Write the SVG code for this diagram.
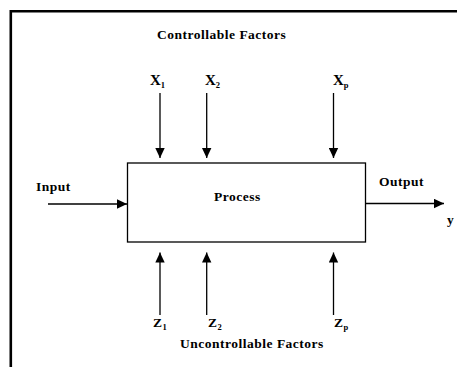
<svg xmlns="http://www.w3.org/2000/svg" width="457" height="367" viewBox="0 0 457 367">
<style>
.t{font-family:"Liberation Serif","Times New Roman",serif;font-weight:bold;font-size:13.5px;letter-spacing:0.5px;fill:#000}
.x{font-size:15px;letter-spacing:0}
.s{font-size:8.5px;letter-spacing:0}
.ln{stroke:#000;stroke-width:1.3;fill:none}
</style>
<defs>
<marker id="ah" markerUnits="userSpaceOnUse" markerWidth="11" markerHeight="10" refX="10" refY="5" orient="auto">
<path d="M0,0.3 L10,5 L0,9.7 Z" fill="#000"/>
</marker>
</defs>
<rect width="457" height="367" fill="#fff"/>
<g id="frame">
<path d="M10.8,367 V11.3 H457" fill="none" stroke="#000" stroke-width="2.6"/>
</g>
<g id="process">
<rect x="127.5" y="163" width="238" height="79" fill="#fff" stroke="#000" stroke-width="1.3"/>
<text class="t" x="214" y="201">Process</text>
</g>
<g id="controllable">
<text class="t" x="157" y="39">Controllable Factors</text>
<text class="t x" x="150" y="85">X<tspan class="s" dy="2.5">1</tspan></text>
<text class="t x" x="205" y="85">X<tspan class="s" dy="2.5">2</tspan></text>
<text class="t x" x="333" y="85">X<tspan class="s" dy="2.5">p</tspan></text>
</g>
<g id="uncontrollable">
<text class="t" x="153" y="327">Z<tspan class="s" dy="3">1</tspan></text>
<text class="t" x="208" y="327">Z<tspan class="s" dy="3">2</tspan></text>
<text class="t" x="334" y="327">Z<tspan class="s" dy="3">p</tspan></text>
<text class="t" x="180" y="348">Uncontrollable Factors</text>
</g>
<g id="input">
<text class="t" x="36" y="191">Input</text>
</g>
<g id="output">
<text class="t" x="379" y="186">Output</text>
<text class="t" x="447" y="224">y</text>
</g>
<g id="connectors">
<line class="ln" x1="160" y1="93" x2="160" y2="158" marker-end="url(#ah)"/>
<line class="ln" x1="206.7" y1="93" x2="206.7" y2="158" marker-end="url(#ah)"/>
<line class="ln" x1="333.5" y1="93" x2="333.5" y2="158" marker-end="url(#ah)"/>
<line class="ln" x1="160" y1="315" x2="160" y2="252.5" marker-end="url(#ah)"/>
<line class="ln" x1="206.7" y1="315" x2="206.7" y2="252.5" marker-end="url(#ah)"/>
<line class="ln" x1="333.5" y1="315" x2="333.5" y2="252.5" marker-end="url(#ah)"/>
<line class="ln" x1="48" y1="204" x2="127" y2="204" marker-end="url(#ah)"/>
<line class="ln" x1="366" y1="203.5" x2="444" y2="203.5" marker-end="url(#ah)"/>
</g>
</svg>
